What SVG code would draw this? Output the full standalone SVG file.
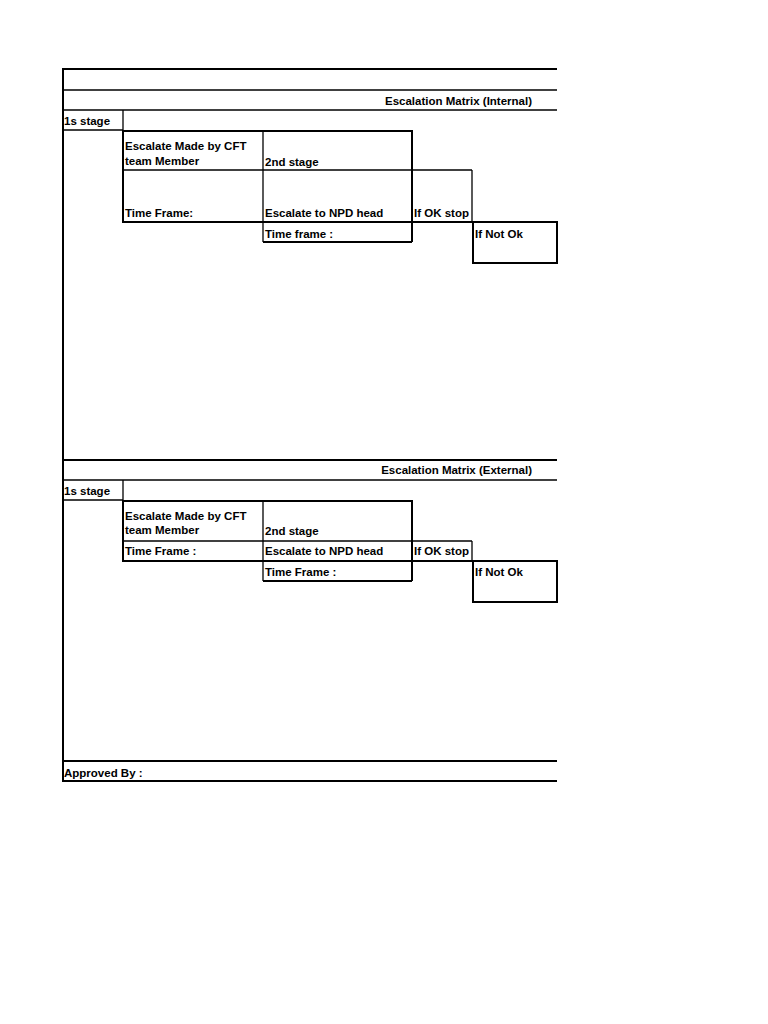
<svg xmlns="http://www.w3.org/2000/svg" width="768" height="1024" viewBox="0 0 768 1024">
<style>
text{font-family:"Liberation Sans",Arial,sans-serif;font-weight:bold;font-size:11.5px;fill:#000}
.t{stroke:#000;stroke-width:2;fill:none}
.n{stroke:#000;stroke-width:1.3;fill:none}
</style>
<rect width="768" height="1024" fill="#fff"/>
<g id="frame">
<line class="t" x1="63" y1="69" x2="557" y2="69"/>
<line class="t" x1="63" y1="68" x2="63" y2="782"/>
<line class="n" x1="63" y1="90" x2="557" y2="90"/>
<line class="n" x1="63" y1="110" x2="557" y2="110"/>
<line class="t" x1="63" y1="460" x2="557" y2="460"/>
<line class="n" x1="63" y1="480" x2="557" y2="480"/>
<line class="t" x1="63" y1="761" x2="557" y2="761"/>
<line class="t" x1="63" y1="781" x2="557" y2="781"/>
<text x="532" y="105" text-anchor="end">Escalation Matrix (Internal)</text>
<text x="532" y="474" text-anchor="end">Escalation Matrix (External)</text>
<text x="64" y="777">Approved By :</text>
</g>
<g id="internal">
<line class="n" x1="63" y1="130" x2="123" y2="130"/>
<line class="n" x1="123" y1="110" x2="123" y2="130"/>
<text x="64" y="125">1s stage</text>
<rect class="t" x="123" y="131" width="289" height="91"/>
<line class="n" x1="123" y1="170" x2="472" y2="170"/>
<line class="n" x1="263" y1="131" x2="263" y2="242"/>
<line class="t" x1="123" y1="222" x2="557" y2="222"/>
<line class="t" x1="263" y1="242" x2="412" y2="242"/>
<line class="t" x1="412" y1="222" x2="412" y2="242"/>
<line class="n" x1="472" y1="170" x2="472" y2="222"/>
<rect class="t" x="473" y="222" width="84" height="41"/>
<text x="125" y="150">Escalate Made by CFT</text>
<text x="125" y="165">team Member</text>
<text x="265" y="166">2nd stage</text>
<text x="125" y="217">Time Frame:</text>
<text x="265" y="217">Escalate to NPD head</text>
<text x="414" y="217">If OK stop</text>
<text x="265" y="238">Time frame :</text>
<text x="475" y="238">If Not Ok</text>
</g>
<g id="external">
<line class="n" x1="63" y1="500" x2="123" y2="500"/>
<line class="n" x1="123" y1="480" x2="123" y2="500"/>
<text x="64" y="495">1s stage</text>
<rect class="t" x="123" y="501" width="289" height="60"/>
<line class="n" x1="123" y1="541" x2="472" y2="541"/>
<line class="n" x1="263" y1="501" x2="263" y2="581"/>
<line class="t" x1="123" y1="561" x2="557" y2="561"/>
<line class="t" x1="263" y1="581" x2="412" y2="581"/>
<line class="t" x1="412" y1="561" x2="412" y2="581"/>
<line class="n" x1="472" y1="541" x2="472" y2="561"/>
<rect class="t" x="473" y="561" width="84" height="41"/>
<text x="125" y="520">Escalate Made by CFT</text>
<text x="125" y="534">team Member</text>
<text x="265" y="535">2nd stage</text>
<text x="125" y="555">Time Frame :</text>
<text x="265" y="555">Escalate to NPD head</text>
<text x="414" y="555">If OK stop</text>
<text x="265" y="576">Time Frame :</text>
<text x="475" y="576">If Not Ok</text>
</g>
</svg>
